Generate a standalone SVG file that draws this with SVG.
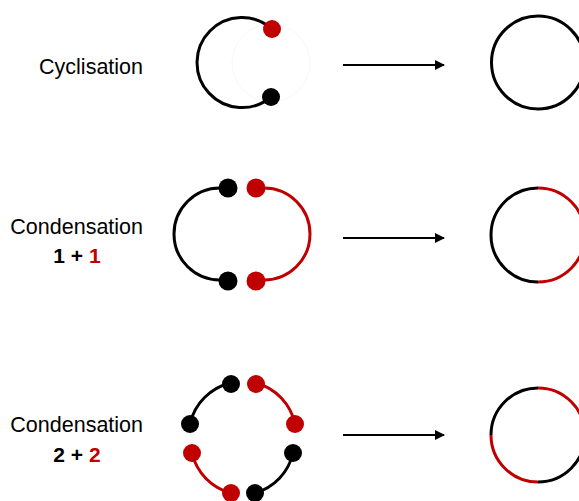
<svg xmlns="http://www.w3.org/2000/svg" width="579" height="501" viewBox="0 0 579 501">
<style>
.lbl{font-family:"Liberation Sans",Arial,sans-serif;font-size:21.5px;fill:#000}
.num{font-family:"Liberation Sans",Arial,sans-serif;font-size:21px;font-weight:bold;fill:#000}
.k{fill:none;stroke:#000;stroke-width:3}
.r{fill:none;stroke:#C00000;stroke-width:3}
.dk{fill:#000}
.dr{fill:#C00000}
.arr{stroke:#000;stroke-width:2;fill:none}
.ghost{fill:none;stroke:#f7f7f7;stroke-width:1}
</style>
<defs>
<marker id="ah" viewBox="0 0 10 10" refX="9" refY="5" markerWidth="5" markerHeight="5" orient="auto" markerUnits="strokeWidth">
<path d="M0,0 L10,5 L0,10 z" fill="#000"/>
</marker>
</defs>
<rect width="579" height="501" fill="#fff"/>

<g id="label-cyclisation"><text class="lbl" x="143" y="74" text-anchor="end">Cyclisation</text></g>
<g id="label-cond1"><text class="lbl" x="143" y="234" text-anchor="end">Condensation</text>
<text class="num" x="77" y="263" text-anchor="middle">1 + <tspan fill="#C00000">1</tspan></text></g>
<g id="label-cond2"><text class="lbl" x="143" y="432" text-anchor="end">Condensation</text>
<text class="num" x="77" y="462" text-anchor="middle">2 + <tspan fill="#C00000">2</tspan></text></g>

<g id="linear1">
<circle class="ghost" cx="271" cy="63" r="39"/>
<path class="k" d="M272,29 A45,45 0 1 0 271,97"/>
<circle class="dr" cx="272" cy="29" r="9"/>
<circle class="dk" cx="271" cy="97" r="9"/>
</g>

<g id="linear2">
<path class="k" d="M228,188 L220,188 A46,46 0 0 0 220,280 L228,280"/>
<path class="r" d="M256,188 L264,188 A46,46 0 0 1 264,280 L256,280"/>
<circle class="dk" cx="228" cy="188" r="9.5"/>
<circle class="dk" cx="228" cy="281" r="9.5"/>
<circle class="dr" cx="256" cy="188" r="9.5"/>
<circle class="dr" cx="256" cy="281" r="9.5"/>
</g>

<g id="linear4">
<path class="k" d="M231,383 A54,54 0 0 0 190,424"/>
<path class="r" d="M256,383 A54,54 0 0 1 295,424"/>
<path class="r" d="M192,453 A54,54 0 0 0 231,493"/>
<path class="k" d="M293,453 A54,54 0 0 1 255,493"/>
<circle class="dk" cx="231" cy="384" r="9"/>
<circle class="dr" cx="256" cy="384" r="9"/>
<circle class="dk" cx="190" cy="424" r="9"/>
<circle class="dr" cx="295" cy="424" r="9"/>
<circle class="dr" cx="192" cy="453" r="9"/>
<circle class="dk" cx="293" cy="453" r="9"/>
<circle class="dr" cx="231" cy="493" r="9"/>
<circle class="dk" cx="255" cy="493" r="9"/>
</g>

<g id="ring1">
<circle class="k" cx="538" cy="62.5" r="46.5"/>
</g>
<g id="ring2">
<path class="k" d="M538,188 A47,47 0 0 0 538,282"/>
<path class="r" d="M538,188 A47,47 0 0 1 538,282"/>
</g>
<g id="ring3">
<path class="k" d="M538,388 A47,47 0 0 0 491,435"/>
<path class="r" d="M491,435 A47,47 0 0 0 538,482"/>
<path class="k" d="M538,482 A47,47 0 0 0 585,435"/>
<path class="r" d="M585,435 A47,47 0 0 0 538,388"/>
</g>

<g id="connectors">
<line class="arr" x1="343" y1="65" x2="444" y2="65" marker-end="url(#ah)"/>
<line class="arr" x1="343" y1="238" x2="444" y2="238" marker-end="url(#ah)"/>
<line class="arr" x1="343" y1="435" x2="444" y2="435" marker-end="url(#ah)"/>
</g>
</svg>
